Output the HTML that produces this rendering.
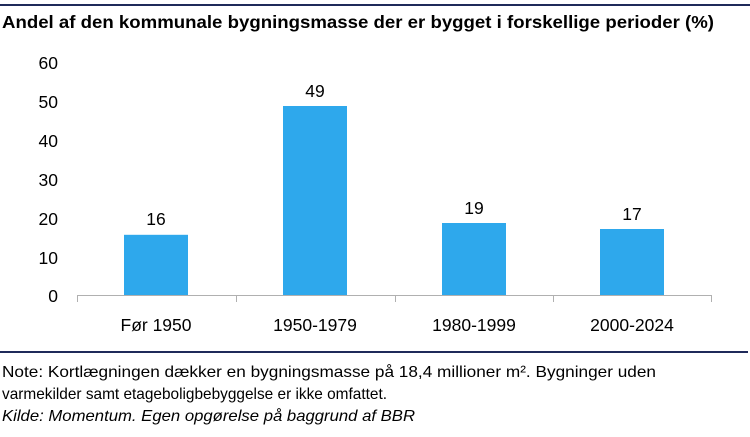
<!DOCTYPE html>
<html><head><meta charset="utf-8"><style>
body{margin:0;width:750px;height:432px;background:#fff;overflow:hidden;font-family:"Liberation Sans",sans-serif;color:#000}
</style></head><body>
<svg width="750" height="432" xmlns="http://www.w3.org/2000/svg" font-family="Liberation Sans, sans-serif">
<rect x="0" y="4" width="750" height="2" fill="#1f2a5a"/>
<text x="2" y="28" font-size="17.5" font-weight="bold" textLength="712" lengthAdjust="spacingAndGlyphs">Andel af den kommunale bygningsmasse der er bygget i forskellige perioder (%)</text>
<g font-size="17.5" text-anchor="end">
<text x="58" y="69">60</text><text x="58" y="108">50</text><text x="58" y="147">40</text>
<text x="58" y="186">30</text><text x="58" y="225">20</text><text x="58" y="264">10</text><text x="58" y="302">0</text>
</g>
<g fill="#2ea8ec">
<rect x="124" y="234.8" width="64" height="60.2"/>
<rect x="283" y="106" width="64" height="189"/>
<rect x="442" y="223" width="64" height="72"/>
<rect x="600" y="229" width="64" height="66"/>
</g>
<path d="M77 295.5H711M77.5 295V302M236.5 295V302M395.5 295V302M553.5 295V302M711.5 295V302" stroke="#b0b0b0" stroke-width="1" fill="none"/>
<g font-size="17.5" text-anchor="middle">
<text x="156" y="225">16</text><text x="315" y="97">49</text>
<text x="474" y="214">19</text><text x="632" y="220">17</text>
<text x="156" y="331">Før 1950</text><text x="315" y="331">1950-1979</text>
<text x="474" y="331">1980-1999</text><text x="632" y="331">2000-2024</text>
</g>
<rect x="0" y="351" width="748" height="2" fill="#1f2a5a"/>
<g font-size="16">
<text x="2" y="377" textLength="654" lengthAdjust="spacingAndGlyphs">Note: Kortlægningen dækker en bygningsmasse på 18,4 millioner m². Bygninger uden</text>
<text x="2" y="399" textLength="385" lengthAdjust="spacingAndGlyphs">varmekilder samt etageboligbebyggelse er ikke omfattet.</text>
<text x="2" y="421" font-style="italic" textLength="413" lengthAdjust="spacingAndGlyphs">Kilde: Momentum. Egen opgørelse på baggrund af BBR</text>
</g>
</svg>
</body></html>
